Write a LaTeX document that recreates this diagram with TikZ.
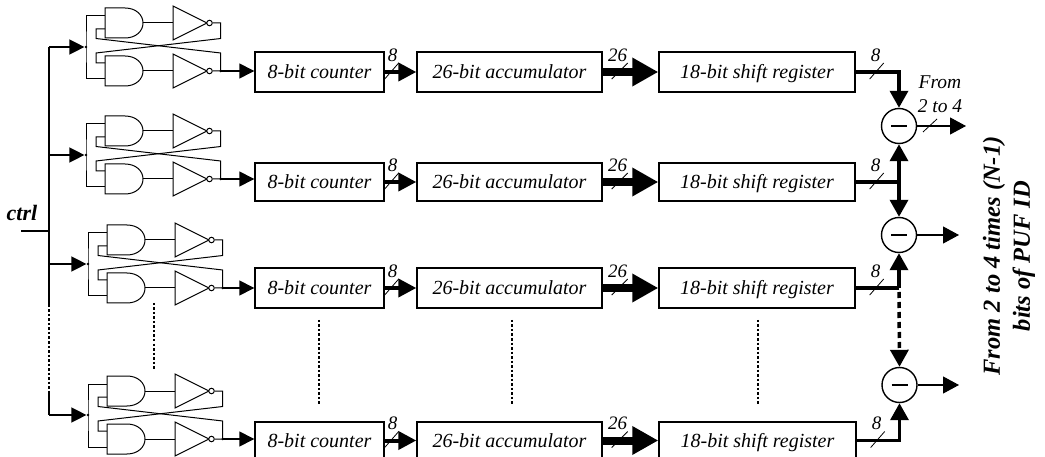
\documentclass[tikz,border=0pt]{standalone}
\usepackage{fontspec}
\setmainfont{Liberation Serif}
\usetikzlibrary{arrows.meta,calc}
\tikzset{
  blockbox/.style={draw,line width=1.4pt,minimum height=#1,inner sep=0pt,text height=18pt,text depth=4pt,font=\fontsize{20}{22}\selectfont\itshape},
  gateline/.style={line width=1pt},
  buslabel/.style={inner sep=0pt,font=\fontsize{19}{21}\selectfont\itshape},
  tick/.style={line width=0.8pt},
  dotline/.style={line width=1.2pt,dash pattern=on 2.5pt off 2pt},
  smallarrow/.style={line width=1.4pt,-{Triangle[length=15pt,width=15pt]}},
  midarrow/.style={line width=4pt,-{Triangle[length=18pt,width=18pt]}},
  bigarrow/.style={line width=8pt,-{Triangle[length=26pt,width=27pt]}},
  regarrow/.style={line width=3.5pt,-{Triangle[length=17pt,width=18pt]}},
  outarrow/.style={line width=1.1pt,-{Triangle[length=16pt,width=17pt]}},
  subnode/.style={draw,circle,line width=1.4pt,minimum size=35pt,inner sep=0pt},
  bubble/.style={draw,circle,line width=1pt,minimum size=5.5pt,inner sep=0pt,fill=white},
  junction/.style={fill,circle,minimum size=2.8pt,inner sep=0pt},
}
% AND gate body: left x, centre y
\newcommand{\andgate}[2]{%
  \draw[gateline] (#1+20,#2-15) -- (#1,#2-15) -- (#1,#2+15) -- (#1+20,#2+15)
    .. controls (#1+31,#2+15) and (#1+38,#2+8) .. (#1+38,#2)
    .. controls (#1+38,#2-8) and (#1+31,#2-15) .. (#1+20,#2-15);}
% inverter triangle: left x, centre y
\newcommand{\invgate}[2]{%
  \draw[gateline] (#1,#2-17) -- (#1+34,#2) -- (#1,#2+17) -- cycle;}
% cross-coupled latch: name, x, junction y, target box
\newcommand{\latch}[4]{%
  \begin{scope}[shift={(#2,#3)}]
    \andgate{19}{-24}\andgate{19}{24}
    \invgate{87}{-24}\invgate{87}{24}
    \node[bubble] (#1bt) at (123.5,-24) {};
    \node[bubble] (#1bb) at (123.5,24) {};
    \node[junction] (#1j) at (0,0) {};
    \node[junction] (#1o) at (134.7,24) {};
    \coordinate (#1ta) at (57,-24); \coordinate (#1tb) at (87,-24);
    \coordinate (#1ba) at (57,24);  \coordinate (#1bc) at (87,24);
    \coordinate (#1i1) at (19,-31); \coordinate (#1i2) at (19,-18);
    \coordinate (#1i3) at (19,16);  \coordinate (#1i4) at (19,32);
    \coordinate (#1c1) at (134.7,-24); \coordinate (#1c2) at (134.7,-8.5);
    \coordinate (#1c3) at (10,6); \coordinate (#1c4) at (134.7,6);
    \coordinate (#1c5) at (10,-8.5);
  \end{scope}
  \draw[gateline] (#1ta) -- (#1tb);
  \draw[gateline] (#1ba) -- (#1bc);
  \draw[gateline] (#1i1) -| (#1j.center) |- (#1i4);
  \draw[gateline] (#1bt) -- (#1c1) -- (#1c2) -- (#1c3) |- (#1i3);
  \draw[gateline] (#1bb) -- (#1o.center) -- (#1c4) -- (#1c5) |- (#1i2);
  \draw[smallarrow] (#1o.center) -- (#1o.center -| #4.west);
}
% row of three blocks: name, top y, bottom y, x offset of register's right edge
\newcommand{\datarow}[4]{%
  \path let \n1={#3-#2} in
    node[blockbox=\n1 pt,minimum width=129pt] (#1cnt) at (319.5,{(#2+#3)/2}) {8-bit counter}
    node[blockbox=\n1 pt,minimum width=185pt] (#1acc) at (509.5,{(#2+#3)/2}) {26-bit accumulator}
    node[blockbox=\n1 pt,minimum width={196pt+#4pt}] (#1reg) at ({757+#4/2},{(#2+#3)/2}) {18-bit shift register};
  \draw[midarrow] (#1cnt) -- (#1acc);
  \draw[bigarrow] (#1acc) -- (#1reg);
  \coordinate (#1t1a) at ($(#1cnt.east)+(0,7)$);
  \coordinate (#1t1b) at ($(#1cnt.east)+(14,-9)$);
  \draw[tick] (#1t1a) ++(0,0) -- (#1t1b);
  \coordinate (#1t2a) at ($(#1acc.east)+(9,7)$);
  \coordinate (#1t2b) at ($(#1acc.east)+(25,-9)$);
  \draw[tick] (#1t2a) -- (#1t2b);
  \coordinate (#1t3a) at ($(#1reg.east)+(14,7)$);
  \coordinate (#1t3b) at ($(#1reg.east)+(28,-9)$);
  \draw[tick] (#1t3a) -- (#1t3b);
  \node[buslabel] (#1l1) at ($(#1cnt.east)+(8,-17)$) {8};
  \node[buslabel] (#1l2) at ($(#1acc.east)+(15,-17)$) {26};
  \node[buslabel] (#1l3) at ($(#1reg.east)+(20,-17)$) {8};
}
\begin{document}
\begin{tikzpicture}[x=1pt,y=-1pt]
\useasboundingbox (0,0) rectangle (1045,457);
\datarow{a}{52}{92}{0}
\datarow{b}{163}{201}{0}
\datarow{c}{268}{308}{0}
\datarow{d}{422}{459}{1}
\latch{pa}{86}{47}{acnt}
\latch{pb}{86}{155}{bcnt}
\latch{pc}{88}{264}{ccnt}
\latch{pd}{88}{415}{dcnt}
% ctrl bus
\node[font=\fontsize{22}{24}\selectfont\bfseries\itshape,inner sep=0pt] (ctrl) at (22,213) {ctrl};
\coordinate (cin) at (21,231);
\coordinate (bus) at (49,231);
\coordinate (bustop) at (49,47);
\coordinate (busdota) at (49,305);
\coordinate (busdotb) at (49,392);
\coordinate (buscorner) at (49,415);
\draw[line width=1.2pt] (cin) -- (bus);
\draw[line width=1.3pt] (paj.center -| bustop) -- (busdota);
\draw[dotline] (busdota) -- (busdotb);
\draw[line width=1.3pt] (busdotb) -- (buscorner);
\draw[smallarrow] (bustop) -- (paj);
\draw[smallarrow] (pbj -| bus) -- (pbj);
\draw[smallarrow] (pcj -| bus) -- (pcj);
\draw[smallarrow] (buscorner) -- (pdj);
% dotted continuation marks
\coordinate (m1a) at (154,303); \coordinate (m1b) at (154,370);
\coordinate (m2a) at (319,320); \coordinate (m2b) at (319,405);
\coordinate (m3a) at (512,320); \coordinate (m3b) at (512,405);
\coordinate (m4a) at (758,320); \coordinate (m4b) at (758,405);
\draw[dotline] (m1a) -- (m1b);
\draw[dotline] (m2a) -- (m2b);
\draw[dotline] (m3a) -- (m3b);
\draw[dotline] (m4a) -- (m4b);
% subtractors
\node[subnode] (s1) at (899,126) {};
\node[subnode] (s2) at (899,235) {};
\node[subnode] (s3) at (899.5,385) {};
\foreach \s in {s1,s2,s3}{
  \draw[line width=1.4pt] ($(\s)+(-8,0)$) -- ($(\s)+(8,0)$);
}
\draw[regarrow] (areg.east) -| (s1.north);
\coordinate (j2) at (breg.east -| s1);
\coordinate (j3) at (creg.east -| s2);
\draw[line width=3.5pt] (breg.east) -- (j2);
\draw[line width=3.5pt] (creg.east) -- (j3);
\draw[regarrow] (j2) -- (s1.south);
\draw[regarrow] (j2) -- (s2.north);
\draw[regarrow] (j3) -- (s2.south);
\draw[regarrow,dash pattern=on 6pt off 4pt,-{Triangle[length=17pt,width=18pt]}] ($(j3)+(0,4)$) -- (s3.north);
\draw[regarrow] (dreg.east) -| (s3.south);
% outputs
\coordinate (o1) at (966,126);
\coordinate (o2) at (959,235);
\coordinate (o3) at (959,385);
\draw[outarrow] (s1.east) -- (o1);
\draw[outarrow] (s2.east) -- (o2);
\draw[outarrow] (s3.east) -- (o3);
\coordinate (t1) at (923,132); \coordinate (t2) at (937,119);
\draw[tick] (t1) -- (t2);
\node[buslabel,align=center,font=\fontsize{19.5}{23.5}\selectfont\itshape] (from) at (940,94) {From\\2 to 4};
\node[rotate=90,align=center,font=\fontsize{24.5}{30}\selectfont\bfseries\itshape,inner sep=0pt] (puf) at (1009,256) {From 2 to 4 times (N-1)\\bits of PUF ID};
\end{tikzpicture}
\end{document}
